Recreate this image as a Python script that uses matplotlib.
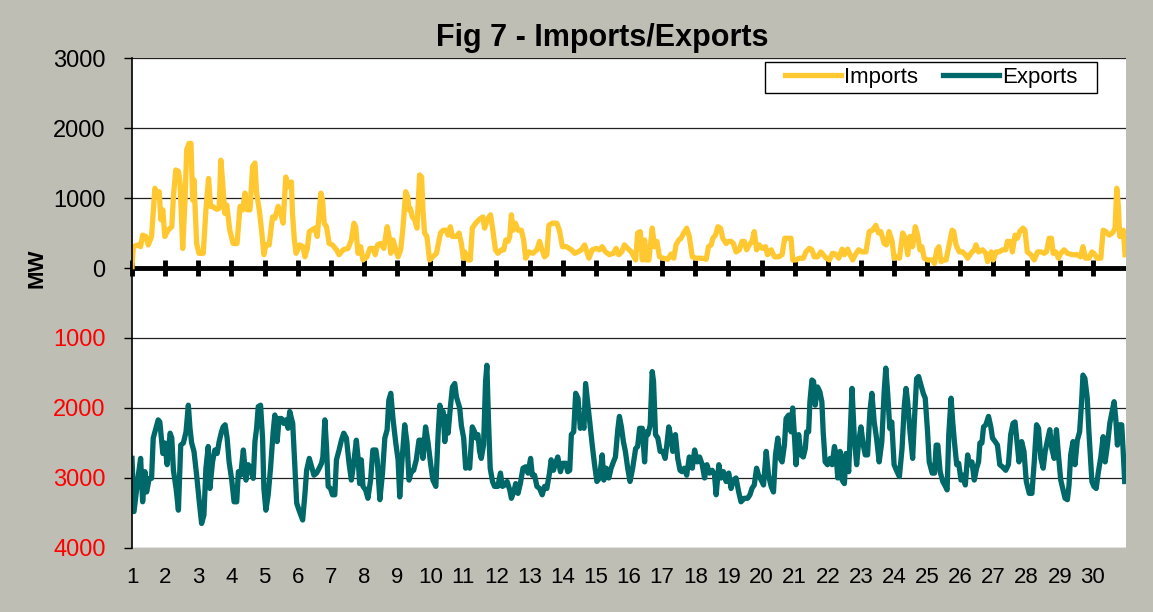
import matplotlib
matplotlib.use("Agg")
import matplotlib.pyplot as plt
from matplotlib.patches import Rectangle
from matplotlib.ticker import FuncFormatter

plt.rcParams['font.family'] = ['Liberation Sans', 'DejaVu Sans']

# Imports (MW), x in days of the month
imp_day = [1.00, 1.04, 1.19, 1.26, 1.32, 1.42, 1.49, 1.59, 1.69, 1.76, 1.82, 1.87, 1.93, 1.99,
           2.09, 2.20, 2.25, 2.32, 2.40, 2.45, 2.53, 2.60, 2.65, 2.72, 2.78, 2.83, 2.87, 2.95,
           3.02, 3.15, 3.23, 3.31, 3.37, 3.43, 3.55, 3.63, 3.68, 3.73, 3.80, 3.86, 3.95,
           4.05, 4.17, 4.26, 4.34, 4.41, 4.48, 4.56, 4.64, 4.71, 4.76, 4.84, 4.91, 4.98,
           5.04, 5.14, 5.24, 5.31, 5.41, 5.49, 5.56, 5.64, 5.71, 5.81, 5.84, 5.90, 5.95,
           6.06, 6.16, 6.22, 6.29, 6.35, 6.42, 6.52, 6.59, 6.65, 6.70, 6.75, 6.80, 6.87, 6.95,
           7.05, 7.17, 7.25, 7.37, 7.52, 7.62, 7.70, 7.75, 7.82, 7.90, 7.97,
           8.09, 8.18, 8.28, 8.34, 8.41, 8.50, 8.60, 8.70, 8.76, 8.81, 8.88, 8.96,
           9.03, 9.11, 9.18, 9.26, 9.32, 9.36, 9.40, 9.46, 9.53, 9.60, 9.68, 9.74, 9.78, 9.83, 9.90, 9.98,
           10.08, 10.19, 10.31, 10.39, 10.49, 10.54, 10.61, 10.67, 10.79, 10.87, 10.94, 11.00,
           11.04, 11.14, 11.21, 11.27, 11.37, 11.47, 11.59, 11.64, 11.72, 11.82, 11.89, 11.97,
           12.04, 12.15, 12.22, 12.28, 12.35, 12.40, 12.45, 12.50, 12.57, 12.65, 12.75, 12.82, 12.88, 12.98,
           13.10, 13.22, 13.30, 13.36, 13.45, 13.52, 13.58, 13.68, 13.82, 13.90, 13.99,
           14.11, 14.26, 14.36, 14.46, 14.56, 14.66, 14.73, 14.79, 14.89,
           15.01, 15.11, 15.19, 15.29, 15.41, 15.53, 15.61, 15.69, 15.78, 15.86, 15.96,
           16.07, 16.20, 16.26, 16.34, 16.40, 16.47, 16.52, 16.60, 16.70, 16.77, 16.84, 16.92,
           17.02, 17.17, 17.27, 17.35, 17.42, 17.50, 17.57, 17.65, 17.74, 17.82, 17.91,
           18.03, 18.18, 18.33, 18.40, 18.48, 18.53, 18.61, 18.68, 18.76, 18.83, 18.93,
           19.01, 19.08, 19.15, 19.23, 19.33, 19.41, 19.48, 19.55, 19.63, 19.71, 19.78, 19.85, 19.93,
           20.02, 20.12, 20.18, 20.29, 20.39, 20.52, 20.62, 20.70, 20.82, 20.89, 20.94,
           21.04, 21.14, 21.26, 21.34, 21.44, 21.52, 21.59, 21.69, 21.79, 21.86, 21.95,
           22.05, 22.14, 22.23, 22.33, 22.43, 22.50, 22.60, 22.67, 22.75, 22.83, 22.93,
           23.03, 23.15, 23.25, 23.35, 23.45, 23.53, 23.60, 23.70, 23.77, 23.85, 23.94,
           24.00, 24.07, 24.16, 24.26, 24.34, 24.41, 24.48, 24.56, 24.64, 24.71, 24.78, 24.84, 24.91,
           25.01, 25.15, 25.22, 25.29, 25.35, 25.42, 25.49, 25.57, 25.67, 25.75, 25.80, 25.87, 25.97,
           26.07, 26.15, 26.22, 26.32, 26.42, 26.47, 26.55, 26.67, 26.77, 26.82, 26.93, 26.99,
           27.08, 27.17, 27.27, 27.37, 27.42, 27.52, 27.57, 27.65, 27.72, 27.79, 27.89, 27.95,
           28.02, 28.13, 28.23, 28.33, 28.43, 28.53, 28.60, 28.68, 28.75, 28.80, 28.88, 28.96,
           29.03, 29.13, 29.23, 29.38, 29.53, 29.63, 29.70, 29.78, 29.88, 29.97,
           30.03, 30.13, 30.24, 30.31, 30.39, 30.49, 30.59, 30.67, 30.72, 30.77, 30.81, 30.87, 30.92, 30.97]
imp_mw = [20, 305, 330, 305, 470, 450, 330, 450, 1140, 1040, 1090, 690, 830, 450,
          540, 590, 1020, 1400, 1380, 1210, 280, 970, 1690, 1780, 1780, 970, 1260, 350,
          210, 210, 830, 1280, 880, 880, 840, 850, 1540, 1260, 780, 900, 540,
          350, 350, 880, 830, 1070, 830, 830, 1450, 1500, 1070, 830, 540, 190,
          330, 330, 730, 710, 880, 780, 640, 1300, 1160, 1230, 800, 400, 210,
          330, 305, 160, 280, 520, 540, 570, 450, 780, 1070, 970, 640, 590, 350,
          330, 260, 190, 260, 280, 400, 640, 590, 210, 305, 115,
          160, 280, 280, 190, 330, 350, 280, 590, 450, 210, 400, 260,
          160, 260, 590, 1090, 1020, 830, 850, 730, 690, 570, 1330, 1300, 830, 500, 450, 115,
          160, 210, 500, 540, 540, 470, 590, 450, 450, 500, 350, 140,
          230, 115, 115, 570, 640, 690, 730, 570, 690, 760, 540, 260,
          210, 260, 260, 400, 380, 450, 760, 540, 640, 540, 540, 400, 140, 230,
          210, 260, 380, 280, 160, 190, 610, 640, 640, 540, 305,
          305, 260, 210, 230, 260, 330, 230, 140, 260,
          280, 260, 305, 230, 190, 210, 280, 190, 230, 330, 280,
          230, 115, 500, 520, 115, 400, 115, 115, 570, 305, 380, 160,
          140, 125, 200, 140, 330, 400, 425, 500, 570, 450, 160,
          140, 140, 125, 305, 330, 425, 470, 590, 570, 425, 350,
          380, 380, 350, 230, 260, 380, 380, 260, 330, 380, 520, 260, 330,
          280, 305, 190, 260, 160, 160, 190, 425, 425, 425, 115,
          115, 140, 140, 230, 280, 260, 160, 160, 230, 190, 140,
          115, 210, 200, 140, 270, 190, 270, 190, 115, 190, 260,
          230, 230, 520, 540, 610, 500, 520, 350, 330, 520, 380,
          140, 160, 140, 500, 425, 190, 450, 305, 590, 470, 260, 305, 140,
          115, 115, 65, 260, 305, 90, 115, 115, 350, 540, 520, 330, 230,
          230, 190, 140, 210, 260, 330, 230, 260, 210, 90, 230, 115,
          230, 230, 260, 260, 380, 380, 230, 470, 425, 520, 570, 540,
          230, 190, 115, 230, 230, 210, 230, 425, 425, 210, 230, 140,
          210, 260, 210, 190, 190, 160, 305, 140, 140, 230,
          210, 140, 140, 540, 520, 470, 500, 570, 1140, 880, 450, 470, 540, 190]

# Exports (MW, plotted below zero)
exp_day = [1.00, 1.06, 1.12, 1.19, 1.26, 1.32, 1.39, 1.44, 1.52, 1.59, 1.64, 1.72, 1.79, 1.84, 1.93, 1.99,
           2.06, 2.15, 2.20, 2.25, 2.33, 2.40, 2.47, 2.55, 2.63, 2.70, 2.75, 2.80, 2.87, 2.95,
           3.03, 3.10, 3.17, 3.23, 3.30, 3.35, 3.43, 3.50, 3.57, 3.63, 3.70, 3.75, 3.81, 3.87, 3.93,
           4.01, 4.08, 4.16, 4.21, 4.28, 4.36, 4.44, 4.51, 4.58, 4.66, 4.71, 4.76, 4.81, 4.88, 4.94, 4.98,
           5.04, 5.11, 5.18, 5.26, 5.31, 5.38, 5.44, 5.51, 5.58, 5.64, 5.71, 5.76, 5.85, 5.91, 5.97,
           6.04, 6.15, 6.22, 6.27, 6.35, 6.42, 6.49, 6.57, 6.65, 6.72, 6.76, 6.82, 6.87, 6.92, 6.99,
           7.05, 7.12, 7.17, 7.25, 7.32, 7.39, 7.47, 7.55, 7.62, 7.69, 7.77, 7.82, 7.87, 7.92, 7.97,
           8.05, 8.12, 8.20, 8.27, 8.36, 8.40, 8.48, 8.56, 8.63, 8.70, 8.75, 8.81, 8.88, 8.96,
           9.03, 9.08, 9.15, 9.23, 9.30, 9.36, 9.43, 9.50, 9.58, 9.66, 9.73, 9.78, 9.86, 9.93,
           10.01, 10.08, 10.17, 10.24, 10.29, 10.34, 10.39, 10.44, 10.49, 10.54, 10.61, 10.67, 10.74,
           10.79, 10.89, 10.94, 11.01, 11.07, 11.11, 11.19, 11.27, 11.34, 11.39, 11.44, 11.49, 11.54,
           11.61, 11.67, 11.71, 11.76, 11.81, 11.88, 11.94,
           12.04, 12.12, 12.18, 12.25, 12.32, 12.40, 12.45, 12.52, 12.58, 12.65, 12.72, 12.80, 12.88, 12.95,
           13.03, 13.08, 13.15, 13.22, 13.30, 13.38, 13.45, 13.52, 13.60, 13.65, 13.72, 13.78, 13.85, 13.93,
           14.00, 14.09, 14.15, 14.21, 14.26, 14.33, 14.39, 14.46, 14.53, 14.59, 14.64, 14.69, 14.76, 14.83, 14.89, 14.96,
           15.03, 15.11, 15.19, 15.24, 15.31, 15.39, 15.46, 15.53, 15.59, 15.66, 15.71, 15.77, 15.83, 15.89, 15.96,
           16.03, 16.11, 16.20, 16.26, 16.32, 16.40, 16.47, 16.52, 16.57, 16.64, 16.70, 16.74, 16.80, 16.87, 16.94,
           17.02, 17.09, 17.14, 17.20, 17.27, 17.32, 17.40, 17.47, 17.54, 17.60, 17.67, 17.74, 17.82, 17.91, 17.98,
           18.06, 18.13, 18.21, 18.28, 18.35, 18.43, 18.51, 18.58, 18.63, 18.71, 18.78, 18.85, 18.93,
           19.01, 19.08, 19.15, 19.23, 19.31, 19.38, 19.48, 19.58, 19.65, 19.71, 19.78, 19.85, 19.91, 19.99,
           20.06, 20.14, 20.21, 20.29, 20.36, 20.42, 20.49, 20.56, 20.62, 20.69, 20.74, 20.82, 20.89, 20.94, 20.99,
           21.04, 21.12, 21.19, 21.26, 21.32, 21.36, 21.42, 21.46, 21.52, 21.57, 21.62, 21.69, 21.76, 21.82, 21.86, 21.92, 21.99,
           22.07, 22.13, 22.20, 22.25, 22.30, 22.37, 22.43, 22.50, 22.55, 22.63, 22.67, 22.73, 22.80, 22.87, 22.93,
           23.00, 23.07, 23.13, 23.20, 23.27, 23.33, 23.40, 23.47, 23.55, 23.63, 23.70, 23.75, 23.81, 23.87, 23.93,
           24.00, 24.07, 24.16, 24.24, 24.31, 24.36, 24.41, 24.48, 24.56, 24.61, 24.68, 24.74, 24.81, 24.88, 24.94,
           25.01, 25.06, 25.15, 25.22, 25.27, 25.32, 25.39, 25.47, 25.55, 25.60, 25.65, 25.72, 25.77, 25.82, 25.89, 25.95,
           26.02, 26.09, 26.15, 26.22, 26.27, 26.35, 26.42, 26.49, 26.55, 26.59, 26.65, 26.70, 26.77, 26.85, 26.92, 26.97,
           27.05, 27.12, 27.19, 27.27, 27.37, 27.45, 27.52, 27.59, 27.65, 27.72, 27.77, 27.85, 27.92, 27.99,
           28.08, 28.16, 28.23, 28.30, 28.36, 28.43, 28.50, 28.56, 28.63, 28.70, 28.76, 28.83, 28.90, 28.96,
           29.03, 29.10, 29.16, 29.23, 29.28, 29.33, 29.40, 29.46, 29.53, 29.60, 29.66, 29.70, 29.76, 29.83, 29.88, 29.97,
           30.03, 30.10, 30.16, 30.24, 30.31, 30.37, 30.44, 30.51, 30.56, 30.64, 30.69, 30.74, 30.81, 30.87, 30.91, 30.96]
exp_mw = [-2720, -3480, -3240, -2960, -2720, -3340, -2910, -3200, -3005, -3005, -2430, -2290, -2170, -2200, -2650, -2500,
          -2810, -2360, -2430, -2890, -3150, -3460, -2530, -2500, -2340, -1960, -2290, -2500, -2620, -2960,
          -3340, -3650, -3530, -2860, -2550, -3150, -2770, -2600, -2650, -2480, -2340, -2270, -2240, -2430, -2770,
          -3030, -3340, -3340, -2910, -2960, -2600, -3030, -2810, -2860, -3005, -2480, -2290, -1980, -1960, -2430, -3150,
          -3460, -3240, -2860, -2340, -2100, -2480, -2150, -2150, -2220, -2170, -2290, -2050, -2220, -2790, -3360,
          -3460, -3600, -3220, -2890, -2720, -2840, -2960, -2930, -2860, -2790, -2700, -2170, -2550, -3120, -3150,
          -3240, -3240, -2740, -2600, -2460, -2360, -2430, -2790, -3030, -2790, -2460, -2700, -3080, -2740, -3120,
          -3170, -3290, -3030, -2600, -2600, -2740, -3310, -2930, -2430, -2310, -1890, -1790, -2170, -2500,
          -2740, -3270, -2740, -2240, -2500, -3030, -2910, -2890, -2740, -2460, -2460, -2720, -2270, -2480,
          -2790, -3030, -3120, -2360, -1960, -2100, -2050, -2480, -2120, -2360, -1980, -1700, -1650,
          -1840, -2000, -2250, -2430, -2860, -2770, -2860, -2270, -2340, -2430, -2380, -2620, -2720,
          -2530, -1620, -1390, -2200, -2860, -3050, -3120,
          -3120, -2930, -3120, -3100, -3050, -3170, -3290, -3200, -3080, -3220, -3080, -2860, -2840, -2930,
          -2720, -2960, -2960, -3120, -3150, -3240, -3120, -3150, -2930, -2740, -2890, -2790, -2700, -2910,
          -2790, -2790, -2910, -2890, -2380, -2340, -1790, -1860, -2290, -2200, -2290, -1650, -1960, -2270, -2530, -2810,
          -3050, -3000, -2670, -3030, -2860, -3000, -2860, -2770, -2700, -2310, -2120, -2270, -2480, -2620, -2860,
          -3050, -2860, -2580, -2550, -2290, -2290, -2770, -2340, -2380, -2240, -1480, -1620, -2380, -2430, -2620,
          -2620, -2720, -2530, -2270, -2430, -2620, -2380, -2720, -2890, -2910, -2860, -2960, -2700, -2860, -2600,
          -2770, -2700, -2810, -3000, -2810, -2930, -2890, -2960, -3240, -2810, -3000, -2910, -3050,
          -2930, -3150, -3030, -3000, -3200, -3340, -3290, -3290, -3240, -3150, -3100, -2860, -2960, -3030,
          -3100, -2620, -2960, -3120, -3200, -2670, -2430, -2720, -2770, -2530, -2150, -2100, -2340, -2000, -2380,
          -2810, -2380, -2670, -2700, -2580, -2340, -2340, -1910, -1600, -1620, -1960, -1700, -1770, -1910, -2340, -2770, -2810,
          -2720, -2810, -2550, -2670, -3000, -2620, -3030, -3080, -2650, -2910, -2430, -1720, -2430, -2810, -2480,
          -2270, -2530, -2670, -2670, -2050, -1790, -2200, -2430, -2770, -2480, -1770, -1430, -1810, -2290, -2200,
          -2810, -2890, -2980, -2580, -1960, -1720, -1910, -2340, -2720, -2200, -1580, -1550, -1670, -1790, -1860,
          -2340, -2770, -2930, -2930, -2530, -2530, -2910, -3050, -3120, -3170, -2380, -1860, -2200, -2480, -2810, -2790,
          -3030, -2960, -3100, -2670, -2810, -2770, -3030, -2860, -2770, -2500, -2500, -2270, -2240, -2120, -2270, -2430,
          -2480, -2530, -2810, -2840, -2890, -2810, -2380, -2220, -2200, -2530, -2770, -2480, -2620, -3050,
          -3220, -3220, -2770, -2240, -2290, -2720, -2860, -2620, -2460, -2310, -2580, -2720, -2310, -2670,
          -3030, -3170, -3290, -3310, -3100, -2670, -2480, -2810, -2460, -2340, -1910, -1530, -1580, -1860, -2340, -3050,
          -3120, -3150, -2930, -2700, -2410, -2770, -2530, -2220, -2100, -1910, -2150, -2530, -2240, -2240, -2580, -3050]

days = list(range(1, 31))
y_ticks = [3000, 2000, 1000, 0, -1000, -2000, -3000, -4000]

BG = '#bfbeb5'
IMP_COLOR = '#ffc830'
EXP_COLOR = '#006868'

fig = plt.figure(figsize=(11.53, 6.12), dpi=100, facecolor=BG)
ax = fig.add_axes([0.1145, 0.1046, 0.8621, 0.8006])
ax.set_facecolor('white')

ax.plot(imp_day, imp_mw, color=IMP_COLOR, lw=3.8, label='Imports', solid_joinstyle='round')
ax.plot(exp_day, exp_mw, color=EXP_COLOR, lw=3.8, label='Exports', solid_joinstyle='round')

ax.set_xlim(1, 31)
ax.set_ylim(-4000, 3000)
ax.set_yticks(y_ticks)
ax.yaxis.set_major_formatter(FuncFormatter(lambda v, p: f"{abs(int(v))}"))
ax.grid(axis='y', color='#222222', lw=0.9)
ax.set_axisbelow(True)
ax.axhline(0, color='black', lw=3.5, zorder=1.5)

ax.set_xticks(days)
ax.set_xticklabels([str(d) for d in days])
ax.tick_params(axis='x', length=0, labelsize=16, pad=14)
ax.tick_params(axis='y', direction='out', length=6, width=1, labelsize=17, pad=13)
for lbl, v in zip(ax.get_yticklabels(), y_ticks):
    lbl.set_color('red' if v < 0 else 'black')

for side in ['top', 'right', 'bottom']:
    ax.spines[side].set_visible(False)
ax.spines['left'].set_linewidth(1.2)

# day ticks drawn on the zero line
zero_axis = ax.secondary_xaxis(4 / 7)
zero_axis.set_xticks(days)
zero_axis.set_xticklabels([])
zero_axis.tick_params(direction='inout', length=11, width=3.5, color='black')
zero_axis.spines['bottom'].set_visible(False)
zero_axis.spines['top'].set_visible(False)

ax.set_ylabel('MW', fontsize=16, fontweight='bold')
ax.yaxis.set_label_coords(-0.085, 0.571)
fig.text(0.522, 0.938, 'Fig 7 - Imports/Exports', ha='center', va='center',
         fontsize=22, fontweight='bold')

# legend box (Excel style, wider side padding than matplotlib's frame)
ax.add_patch(Rectangle((0.637, 0.929), 0.334, 0.063, transform=ax.transAxes,
                       facecolor='white', edgecolor='black', lw=1.0, zorder=4))
leg = ax.legend(loc='center', ncol=2, fontsize=16, frameon=False,
                handlelength=2.5, handletextpad=0.14, borderpad=0.0,
                columnspacing=1.14, borderaxespad=0, bbox_to_anchor=(0.804, 0.9605))
leg.set_zorder(5)

fig.savefig('out.png', dpi=100, facecolor=BG)
